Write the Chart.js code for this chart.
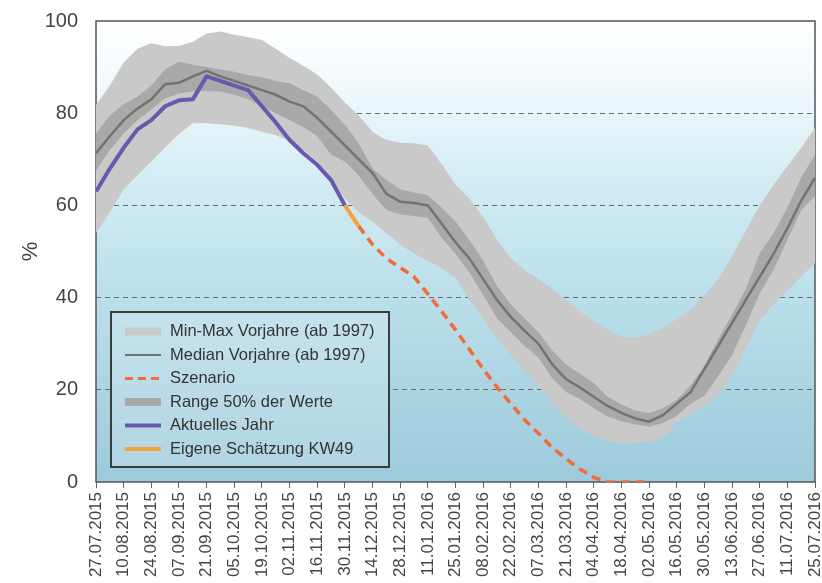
<!DOCTYPE html>
<html>
<head>
<meta charset="utf-8">
<script src="https://cdn.jsdelivr.net/npm/chart.js@4.4.1/dist/chart.umd.min.js"></script>
<style>
  body { margin: 0; background: #ffffff; }
  #c { display: block; }
</style>
</head>
<body>
<canvas id="c" width="822" height="583"></canvas>
<script>
// Tick-Beschriftung (alle 2 Wochen), Werte wöchentlich ab 27.07.2015 (Index 0..52)
var tickLabels = ['27.07.2015','10.08.2015','24.08.2015','07.09.2015','21.09.2015','05.10.2015','19.10.2015',
  '02.11.2015','16.11.2015','30.11.2015','14.12.2015','28.12.2015','11.01.2016','25.01.2016','08.02.2016',
  '22.02.2016','07.03.2016','21.03.2016','04.04.2016','18.04.2016','02.05.2016','16.05.2016','30.05.2016',
  '13.06.2016','27.06.2016','11.07.2016','25.07.2016'];

var maxVorjahre = [81.8,86,91,94,95.2,94.5,94.6,95.5,97.3,97.7,97,96.5,95.9,94,92,90.3,88.4,85.5,82.3,79.5,
  76,74.2,73.6,73.5,73,69,64.5,61.5,57.5,52.5,48.5,46,44,41.8,39.5,37,35,33,31.5,31.3,32,33.5,35.3,37.5,
  40.5,44,49,54.5,60,64.5,68.5,72.5,76.8];
var minVorjahre = [54,58.5,63.5,66.5,69.5,72.5,75.5,77.8,77.8,77.6,77.3,76.8,76,75.2,74,72,69.5,66,61.5,58.5,
  56.5,54,51.5,49.5,48,46.3,44.3,39.5,35.5,31,27.5,24,20.8,17,14,11.5,10,9,8.4,8.5,8.8,9.5,13,14.5,16.5,19,
  23,29,35,38.5,41.5,44.5,47.5];
var q75 = [75.6,79.5,82,83.6,86,89.5,91.2,90.5,90,89.5,89,88.3,87.8,87,86.5,85,83.6,80.7,77.5,73.5,68,65.5,
  63.5,62.8,62.2,59.5,56.5,52.5,48,42.5,38.5,35.5,32.5,28.5,25.5,23.5,21.5,18.5,16.8,15.5,14.9,16,17.8,21,
  25.2,31,36.3,42,49.6,54,59.5,66,71];
var q25 = [67.5,72,75.6,78.5,80.8,83.2,84.3,84.7,84.8,84.7,84,83,81.5,80,78.5,77,75,71,69.5,66.5,62.5,59,58,
  57.7,57.3,53,49.5,45.5,40.5,35.5,32.5,29.5,27,22.5,19.5,18,16,14.2,13.2,12.5,12,12.8,14.3,17,18.7,23,27.5,
  34,40.9,46,52.5,59,62];
var median = [71.3,75,78.5,81,83,86.3,86.6,88,89.2,88,87,86,85,84,82.5,81.5,79,76,73,70,67,62.5,60.8,60.5,60,
  56,52,48.5,44,39.5,35.8,32.8,30,25.5,22.3,20.5,18.5,16.5,15,13.8,13.1,14.5,17,19.5,24.5,29.5,34.5,39.5,
  44.5,49.5,55,61,66];
var aktuellesJahr = [63,68,72.5,76.5,78.5,81.5,82.8,83,88,87,86,85,81.5,78,74.2,71.3,68.8,65.5,60];   // ab Index 0
var schaetzung = [60,55.5];                                                                     // ab Index 18
var szenario = [55.5,51.5,48.5,46.5,44.5,40.8,37,33,28.8,24.5,20.6,17,13.5,10.5,7.5,5,2.8,1,0,0,0,0]; // ab Index 19

var legendNames = ['Min-Max Vorjahre (ab 1997)','Median Vorjahre (ab 1997)','Szenario',
  'Range 50% der Werte','Aktuelles Jahr','Eigene Schätzung KW49'];

function pts(arr, start) {
  return arr.map(function (v, k) { return { x: start + k, y: v }; });
}

var hellGrau = '#c9c9c9', dunkelGrau = '#a9a9a9', medianFarbe = '#737373';
var lila = '#6759ad', orange = '#f7a23a', rot = '#f26b3a';
var schrift = '"Liberation Sans", Arial, sans-serif';

function bgGradient(ctx, a) {
  var g = ctx.createLinearGradient(0, a.top, 0, a.bottom);
  g.addColorStop(0, '#ffffff');
  g.addColorStop(0.1, '#f6fbfd');
  g.addColorStop(0.35, '#d2ecf4');
  g.addColorStop(0.6, '#badfea');
  g.addColorStop(1, '#9dcadb');
  return g;
}

var hintergrund = {
  id: 'hintergrund',
  beforeDraw: function (chart) {
    var ctx = chart.ctx, a = chart.chartArea;
    ctx.save();
    ctx.fillStyle = bgGradient(ctx, a);
    ctx.fillRect(a.left, a.top, a.right - a.left, a.bottom - a.top);
    ctx.restore();
  },
  beforeDatasetsDraw: function (chart) {
    var ctx = chart.ctx, a = chart.chartArea;
    ctx.save();
    ctx.strokeStyle = '#555';
    ctx.lineWidth = 1.5;
    ctx.strokeRect(a.left, a.top, a.right - a.left, a.bottom - a.top);
    ctx.restore();
  }
};

var legende = {
  id: 'legende',
  afterDraw: function (chart) {
    var ctx = chart.ctx;
    var x = 111, y = 312, w = 278, h = 155;
    ctx.save();
    ctx.fillStyle = bgGradient(ctx, chart.chartArea);
    ctx.fillRect(x, y, w, h);
    ctx.fillStyle = 'rgba(255,255,255,0.18)';
    ctx.fillRect(x, y, w, h);
    ctx.strokeStyle = '#3c3c3c';
    ctx.lineWidth = 2;
    ctx.strokeRect(x, y, w, h);
    ctx.font = '16.5px ' + schrift;
    ctx.textBaseline = 'middle';
    for (var k = 0; k < legendNames.length; k++) {
      var ry = 331.5 + k * 23.5;
      var sx = 125, ex = 161;
      ctx.setLineDash([]);
      if (k === 0 || k === 3) {
        ctx.fillStyle = k === 0 ? hellGrau : dunkelGrau;
        ctx.fillRect(sx, ry - 4, ex - sx, 8);
      } else {
        ctx.beginPath();
        ctx.moveTo(sx, ry);
        ctx.lineTo(ex, ry);
        if (k === 1) { ctx.strokeStyle = medianFarbe; ctx.lineWidth = 2; }
        if (k === 2) { ctx.strokeStyle = rot; ctx.lineWidth = 3; ctx.setLineDash([8, 5]); }
        if (k === 4) { ctx.strokeStyle = lila; ctx.lineWidth = 4; }
        if (k === 5) { ctx.strokeStyle = orange; ctx.lineWidth = 4; }
        ctx.stroke();
      }
      ctx.setLineDash([]);
      ctx.fillStyle = '#333';
      ctx.fillText(legendNames[k], 170, ry);
    }
    ctx.restore();
  }
};

var basis = { pointRadius: 0, borderWidth: 0, tension: 0 };

new Chart(document.getElementById('c'), {
  type: 'line',
  data: {
    datasets: [
      Object.assign({ label: legendNames[0], data: pts(maxVorjahre, 0), fill: 1, backgroundColor: hellGrau, order: 10 }, basis),
      Object.assign({ label: 'min', data: pts(minVorjahre, 0), fill: false, order: 10 }, basis),
      Object.assign({ label: legendNames[3], data: pts(q75, 0), fill: 3, backgroundColor: dunkelGrau, order: 8 }, basis),
      Object.assign({ label: 'q25', data: pts(q25, 0), fill: false, order: 8 }, basis),
      { label: legendNames[1], data: pts(median, 0), borderColor: medianFarbe, borderWidth: 2.5, pointRadius: 0, fill: false, order: 6 },
      { label: legendNames[2], data: pts(szenario, 19), borderColor: rot, borderWidth: 3.5, borderDash: [9, 6], pointRadius: 0, fill: false, order: 5 },
      { label: legendNames[4], data: pts(aktuellesJahr, 0), borderColor: lila, borderWidth: 4, pointRadius: 0, fill: false, order: 4, borderJoinStyle: 'round' },
      { label: legendNames[5], data: pts(schaetzung, 18), borderColor: orange, borderWidth: 4, pointRadius: 0, fill: false, order: 3 }
    ]
  },
  options: {
    responsive: false,
    animation: false,
    layout: { padding: { left: 0, right: 7, top: 21, bottom: 0 } },
    plugins: { legend: { display: false }, tooltip: { enabled: false } },
    scales: {
      x: {
        type: 'linear',
        min: 0, max: 52,
        afterFit: function (s) { s.height = 101; s.paddingLeft = 0; s.paddingRight = 0; },
        afterBuildTicks: function (s) {
          s.ticks = tickLabels.map(function (t, k) { return { value: k * 2 }; });
        },
        ticks: {
          autoSkip: false,
          minRotation: 90, maxRotation: 90,
          padding: 4,
          color: '#444',
          font: { family: schrift, size: 17 },
          callback: function (v) { return tickLabels[v / 2]; }
        },
        grid: { drawOnChartArea: false, drawTicks: true, tickLength: 6, color: '#666' },
        border: { display: false }
      },
      y: {
        min: 0, max: 100,
        afterFit: function (s) { s.width = 96; s.paddingTop = 0; s.paddingBottom = 0; },
        ticks: {
          stepSize: 20,
          padding: 18,
          color: '#444',
          font: { family: schrift, size: 20 }
        },
        title: {
          display: true, text: '%',
          color: '#444',
          font: { family: schrift, size: 22 },
          padding: { top: 18, bottom: 0 }
        },
        grid: {
          drawTicks: false,
          lineWidth: 1,
          color: function (c) { return (c.tick.value === 0 || c.tick.value === 100) ? 'rgba(0,0,0,0)' : '#6a6a6a'; }
        },
        border: { display: false, dash: [5, 4] }
      }
    }
  },
  plugins: [hintergrund, legende]
});
</script>
</body>
</html>
